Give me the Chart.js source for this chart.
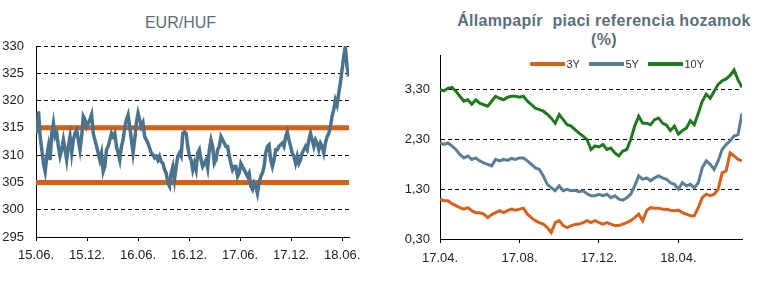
<!DOCTYPE html>
<html lang="hu">
<head>
  <meta charset="UTF-8" />
  <title>EUR/HUF és állampapír hozamok</title>
  <style>
    body {
      margin: 0;
      background: #fff;
      font-family: 'Liberation Sans', Arial, sans-serif;
    }
    #lap {
      position: relative;
      width: 777px;
      height: 292px;
      overflow: hidden;
    }
    .cim {
      position: absolute;
      color: #5b6f80;
      font-size: 16px;
      line-height: 19px;
      text-align: center;
    }
    #cim1 { left: 80px; top: 13px; width: 201px; }
    #cim2 { left: 434px; top: 11px; width: 340px; font-weight: bold; letter-spacing: 0.3px; line-height: 19.3px; }
    canvas { position: absolute; top: 0; }
    #bal { left: 0; }
    #jobb { left: 385px; }
    #jelmagyarazat {
      position: absolute;
      left: 530px;
      top: 57px;
      height: 14px;
      display: flex;
      align-items: center;
      font-size: 11px;
      color: #333;
    }
    #jelmagyarazat .vonal { width: 35px; height: 4px; margin-right: 1.5px; }
    #jelmagyarazat .tetel { display: flex; align-items: center; margin-right: 9px; }
  </style>
</head>
<body>
  <div id="lap">
    <div class="cim" id="cim1">EUR/HUF</div>
    <div class="cim" id="cim2">Állampapír&nbsp; piaci referencia hozamok<br>(%)</div>
    <canvas id="bal" width="385" height="292"></canvas>
    <canvas id="jobb" width="392" height="292"></canvas>
    <div id="jelmagyarazat"></div>
  </div>

  <script src="https://cdn.jsdelivr.net/npm/chart.js"></script>
  <script>
    // EUR/HUF panel
    const balXCimkek = ['15.06.', '15.12.', '16.06.', '16.12.', '17.06.', '17.12.', '18.06.'];
    const balYTickek = [295, 300, 305, 310, 315, 320, 325, 330];
    const savHatarok = [305, 315];
    const balKezdo = 0.1;   // months after 15.06.
    const balLepes = 0.195; // months between samples
    const eurHuf = [
      314.0, 318.0, 313.4, 311.0, 308.5, 307.0, 309.8, 311.6, 309.1, 314.0,
      315.9, 313.4, 314.0, 311.6, 309.8, 311.0, 312.8, 311.0, 309.1, 311.6,
      313.4, 310.4, 312.8, 314.0, 314.6, 312.8, 311.0, 313.4, 317.1, 316.5,
      315.2, 315.9, 316.5, 317.4, 314.0, 312.8, 311.6, 310.4, 309.1, 310.4,
      307.0, 307.9, 311.0, 311.6, 312.8, 314.0, 313.4, 314.0, 311.6, 310.4,
      309.1, 311.6, 312.8, 315.2, 316.5, 317.4, 315.2, 312.8, 310.4, 312.8,
      315.9, 317.7, 316.5, 315.2, 315.9,
      313.4, 312.8, 312.2, 311.3, 310.4, 310.1, 309.5, 309.8, 309.1, 309.8,
      308.8, 308.5, 307.3, 306.7, 304.9, 304.3, 306.7, 307.9, 305.5, 307.9,
      309.8, 310.4, 309.8, 314.0, 314.3, 314.0, 311.6, 309.8, 309.1, 307.3,
      308.5, 307.3, 310.4, 311.0, 309.1, 307.9, 308.5, 309.1, 307.6, 311.0,
      312.8, 311.6, 308.5, 309.1, 311.0, 311.6, 313.4, 312.8, 312.2, 311.6,
      311.6, 309.8, 308.5, 307.3, 307.9, 307.9, 306.1, 306.7, 308.5, 307.9,
      307.3, 306.7, 306.1, 306.7,
      304.3, 303.7, 304.9, 304.3, 303.0, 304.9, 306.1, 306.7, 307.9, 310.4,
      311.6, 311.9, 309.1, 307.9, 309.1, 311.0, 311.0, 311.6, 311.9, 312.2,
      311.6, 313.4, 314.3, 312.8, 311.6, 310.4, 309.8, 308.5, 309.8, 308.5,
      309.1, 310.4, 311.0, 311.6, 311.0, 312.8, 314.0, 312.8, 311.6, 312.8,
      312.2, 311.0, 312.2, 311.6, 310.4, 312.2, 313.4, 314.0, 315.2, 317.1,
      318.3, 320.1, 319.2, 321.3, 323.2, 325.6, 328.0, 329.9, 326.2, 324.4
    ];

    // Hozam panel
    const jobbXCimkek = ['17.04.', '17.08.', '17.12.', '18.04.'];
    const jobbYTickek = [0.3, 1.3, 2.3, 3.3];
    const jobbLepes = 0.2; // months between samples, from 17.04.
    const sorozatNevek = ['3Y', '5Y', '10Y'];
    const sorozatSzinek = ['#d4621c', '#5a7f96', '#1f7a1f'];
    const hozam3Y = [
      1.10, 1.07, 1.07, 1.01, 0.97, 0.93, 0.90, 0.93, 0.87, 0.83, 0.83, 0.80, 0.73,
      0.79, 0.83, 0.87, 0.83, 0.87, 0.90, 0.88, 0.90, 0.92, 0.80, 0.73, 0.67, 0.63,
      0.60, 0.53, 0.43, 0.63, 0.67, 0.57, 0.53, 0.57, 0.59, 0.60, 0.63, 0.67, 0.63,
      0.67, 0.63, 0.60, 0.63, 0.60, 0.57, 0.57, 0.60, 0.63, 0.67, 0.73, 0.80,
      0.67, 0.87, 0.93, 0.92, 0.92, 0.90, 0.90, 0.88, 0.87, 0.88, 0.83, 0.80, 0.77,
      0.77, 0.93, 1.13, 1.20, 1.17, 1.20, 1.30, 1.63, 1.67, 2.03, 1.97, 1.90, 1.87
    ];
    const hozam5Y = [
      2.23, 2.20, 2.23, 2.17, 2.10, 2.00, 1.93, 1.97, 1.90, 1.93, 1.87, 1.83, 1.80,
      1.77, 1.90, 1.87, 1.90, 1.88, 1.92, 1.90, 1.93, 1.93, 1.87, 1.80, 1.73, 1.70,
      1.57, 1.40, 1.33, 1.27, 1.37, 1.27, 1.30, 1.27, 1.28, 1.25, 1.27, 1.21, 1.17,
      1.17, 1.20, 1.17, 1.20, 1.13, 1.17, 1.10, 1.08, 1.13, 1.20, 1.37, 1.57,
      1.50, 1.53, 1.47, 1.53, 1.57, 1.53, 1.50, 1.43, 1.40, 1.30, 1.43, 1.37, 1.40,
      1.33, 1.43, 1.73, 1.87, 1.80, 1.70, 1.87, 2.10, 2.20, 2.27, 2.37, 2.40, 2.83
    ];
    const hozam10Y = [
      3.30, 3.28, 3.33, 3.35, 3.27, 3.17, 3.07, 3.10, 3.01, 3.10, 3.03, 3.00, 2.97,
      3.07, 3.17, 3.13, 3.10, 3.15, 3.17, 3.17, 3.15, 3.17, 3.07, 3.00, 2.93, 2.90,
      2.87, 2.81, 2.73, 2.63, 2.80, 2.70, 2.60, 2.57, 2.50, 2.43, 2.37, 2.30, 2.10,
      2.17, 2.15, 2.20, 2.10, 2.13, 2.03, 1.97, 2.07, 2.10, 2.30, 2.57, 2.77,
      2.63, 2.63, 2.60, 2.70, 2.73, 2.63, 2.59, 2.48, 2.57, 2.41, 2.48, 2.53, 2.68,
      2.60, 2.83, 3.07, 3.21, 3.13, 3.27, 3.41, 3.48, 3.52, 3.59, 3.70, 3.50, 3.35
    ];

    Chart.defaults.font.family = "'Liberation Sans', Arial, sans-serif";
    Chart.defaults.font.size = 13;
    Chart.defaults.color = '#222';

    const pontok = (ertekek, kezdo, lepes) => ertekek.map((v, i) => ({ x: kezdo + i * lepes, y: v }));

    function tengelyek(xCimkek, xLepes, xMax, yTickek, yMin, yMax, yFormat, ySzel, xMag, xPad, yPad) {
      return {
        x: {
          type: 'linear',
          min: 0,
          max: xMax,
          afterBuildTicks: s => { s.ticks = xCimkek.map((_, i) => ({ value: i * xLepes })); },
          afterFit: s => { s.height = xMag; s.paddingLeft = 0; s.paddingRight = 0; },
          ticks: {
            autoSkip: false,
            maxRotation: 0,
            padding: xPad,
            callback: v => xCimkek[Math.round(v / xLepes)]
          },
          grid: { drawOnChartArea: false, drawTicks: true, tickLength: 4, color: '#000' },
          border: { color: '#000', width: 1 }
        },
        y: {
          min: yMin,
          max: yMax,
          afterBuildTicks: s => { s.ticks = yTickek.map(v => ({ value: v })); },
          afterFit: s => { s.width = ySzel; s.paddingTop = 0; s.paddingBottom = 0; },
          ticks: { padding: yPad, callback: yFormat },
          grid: { color: '#000', lineWidth: 1, drawTicks: false },
          border: { color: '#000', width: 1, dash: [4, 3] }
        }
      };
    }

    const balMax = 36.8;
    new Chart(document.getElementById('bal'), {
      type: 'line',
      data: {
        datasets: [
          {
            label: 'EUR/HUF',
            data: pontok(eurHuf, balKezdo, balLepes),
            borderColor: '#4b738e',
            borderWidth: 3.5,
            pointRadius: 0
          },
          ...savHatarok.map(h => ({
            label: 'sáv ' + h,
            data: [{ x: 0, y: h }, { x: balMax, y: h }],
            borderColor: '#d45f17',
            borderWidth: 5,
            pointRadius: 0
          }))
        ]
      },
      options: {
        responsive: false,
        animation: false,
        devicePixelRatio: 1,
        layout: { padding: { top: 46, right: 36, left: 0, bottom: 0 } },
        scales: tengelyek(balXCimkek, 6, balMax, balYTickek, 295, 330, v => v, 36, 55, 7, 12),
        plugins: { legend: { display: false }, tooltip: { enabled: false } }
      }
    });

    const hozamok = [hozam3Y, hozam5Y, hozam10Y];
    new Chart(document.getElementById('jobb'), {
      type: 'line',
      data: {
        datasets: hozamok.map((h, i) => ({
          label: sorozatNevek[i],
          data: pontok(h, 0, jobbLepes),
          borderColor: sorozatSzinek[i],
          backgroundColor: sorozatSzinek[i],
          borderWidth: 3,
          pointRadius: 0
        }))
      },
      options: {
        responsive: false,
        animation: false,
        devicePixelRatio: 1,
        layout: { padding: { top: 55, right: 35, left: 0, bottom: 0 } },
        scales: tengelyek(jobbXCimkek, 4, 15.2, jobbYTickek, 0.3, 4.0,
          v => v.toFixed(2).replace('.', ','), 55, 53, 8, 10),
        plugins: { legend: { display: false }, tooltip: { enabled: false } }
      }
    });

    // jelmagyarázat
    const jm = document.getElementById('jelmagyarazat');
    sorozatNevek.forEach((nev, i) => {
      const tetel = document.createElement('span');
      tetel.className = 'tetel';
      const vonal = document.createElement('span');
      vonal.className = 'vonal';
      vonal.style.background = sorozatSzinek[i];
      tetel.appendChild(vonal);
      tetel.appendChild(document.createTextNode(nev));
      jm.appendChild(tetel);
    });
  </script>
</body>
</html>
